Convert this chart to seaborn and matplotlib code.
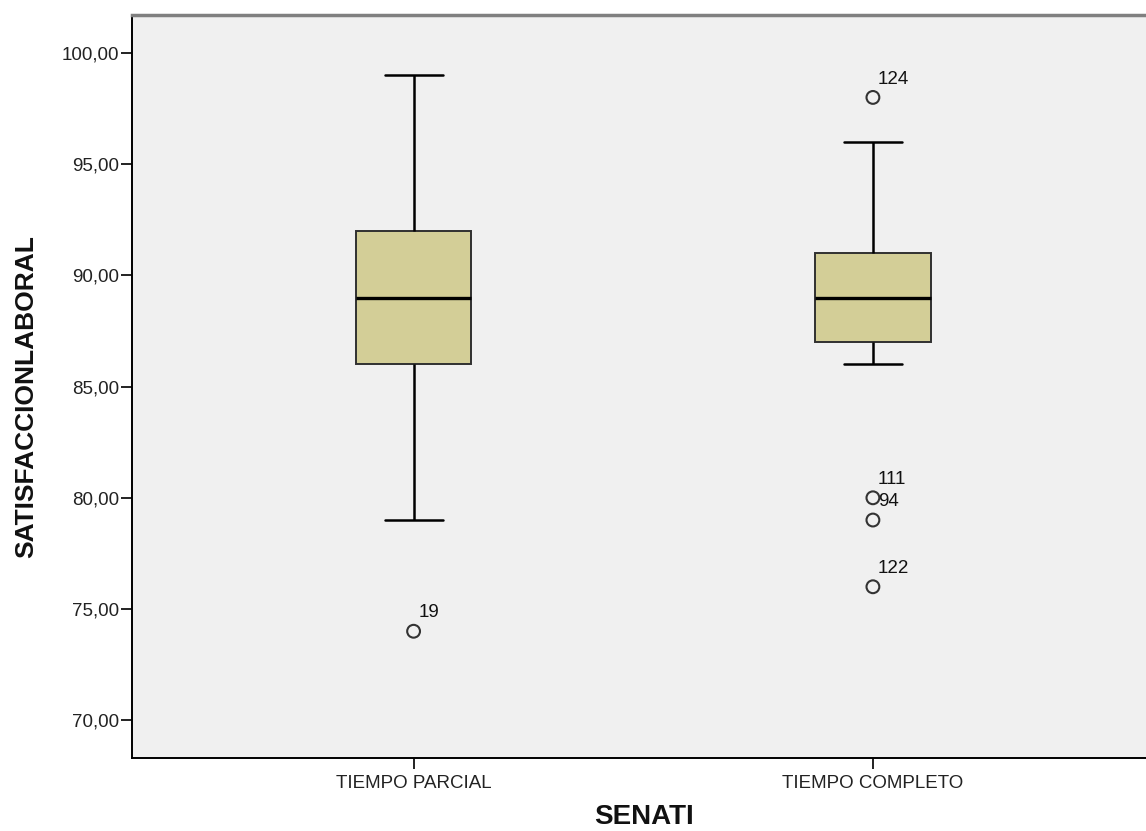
# Boxplot SATISFACCIONLABORAL nach SENATI (SPSS-Stil)

import numpy as np
import pandas as pd
import matplotlib
matplotlib.use("Agg")
import matplotlib.pyplot as plt
import seaborn as sns

# Kategorien und Werte
gruppen = ["TIEMPO PARCIAL", "TIEMPO COMPLETO"]
# je Gruppe: unterer Whisker, Q1, Median, Q3, oberer Whisker
parcial_werte = [79, 86, 89, 92, 99]
completo_werte = [86, 87, 89, 91, 96]

# Ausreißer mit Fallnummer
ausreisser_gruppe = ["TIEMPO PARCIAL", "TIEMPO COMPLETO", "TIEMPO COMPLETO",
                     "TIEMPO COMPLETO", "TIEMPO COMPLETO"]
ausreisser_wert = [74, 98, 80, 79, 76]
ausreisser_fall = ["19", "124", "111", "94", "122"]

y_ticks = [70, 75, 80, 85, 90, 95, 100]

sns.set_style("white")
plt.rcParams['font.family'] = ['Liberation Sans', 'DejaVu Sans']

df = pd.DataFrame({
    "SENATI": [gruppen[0]] * len(parcial_werte) + [gruppen[1]] * len(completo_werte),
    "SATISFACCIONLABORAL": parcial_werte + completo_werte,
})
df_out = pd.DataFrame({
    "SENATI": ausreisser_gruppe,
    "SATISFACCIONLABORAL": ausreisser_wert,
    "fall": ausreisser_fall,
})

fig = plt.figure(figsize=(11.46, 8.31), dpi=100)
ax = fig.add_axes([0.1152, 0.0878, 0.895, 0.894])
ax.set_facecolor("#f0f0f0")

sns.boxplot(data=df, x="SENATI", y="SATISFACCIONLABORAL", order=gruppen,
            color="#d3ce97", saturation=1, width=0.252, whis=1.5,
            showfliers=False, linecolor="black", linewidth=1.4,
            boxprops={"edgecolor": "#303030"},
            medianprops={"linewidth": 2.4, "color": "black"},
            whiskerprops={"linewidth": 1.8},
            capprops={"linewidth": 1.8},
            ax=ax)

sns.scatterplot(data=df_out, x="SENATI", y="SATISFACCIONLABORAL", ax=ax,
                marker="o", s=85, facecolor="none", edgecolor="#333333",
                linewidth=1.5, legend=False, zorder=5)

# Fallnummern neben die Ausreißer
pos = {g: i for i, g in enumerate(gruppen)}
for _, r in df_out.iterrows():
    ax.annotate(r["fall"], (pos[r["SENATI"]], r["SATISFACCIONLABORAL"]),
                xytext=(3.5, 10), textcoords="offset points",
                fontsize=13.5, ha="left", va="baseline", color="#111111")

ax.set_xlim(-0.613, 1.62)
ax.set_ylim(68.3, 101.7)
ax.set_yticks(y_ticks)
ax.set_yticklabels([f"{v:.2f}".replace(".", ",") for v in y_ticks])

ax.tick_params(axis="both", direction="out", length=8, width=1.4,
               colors="#222222", labelsize=13.5, left=True, bottom=True)
ax.tick_params(axis="y", pad=1)
ax.tick_params(axis="x", pad=4)

for s in ["left", "bottom"]:
    ax.spines[s].set_color("black")
    ax.spines[s].set_linewidth(1.4)
ax.spines["top"].set_color("#808080")
ax.spines["top"].set_linewidth(2.5)
ax.spines["right"].set_visible(False)

# im Original ist SENATI unten angeschnitten, hier ganz sichtbar
ax.set_xlabel("SENATI", fontsize=20, fontweight="bold", color="#111111", va="top")
ax.xaxis.set_label_coords(0.499, -0.062)
ax.set_ylabel("SATISFACCIONLABORAL", fontsize=19, fontweight="bold",
              color="#111111", va="center")
ax.yaxis.set_label_coords(-0.103, 0.487)

fig.savefig("out.png", dpi=100)
